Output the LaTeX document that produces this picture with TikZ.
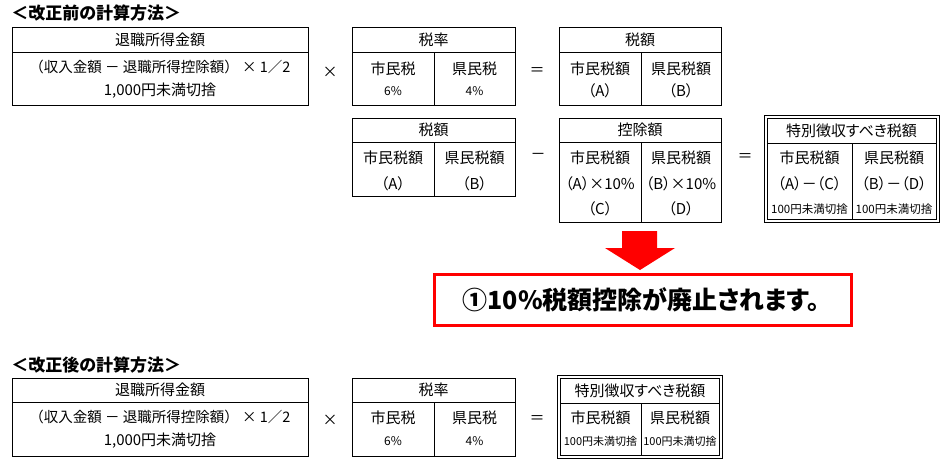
\documentclass[tikz,border=0pt]{standalone}
\usepackage{fontspec}
\setmainfont{Noto Sans CJK JP}[RawFeature={+palt}]
\newfontfamily\fwfont{Noto Sans CJK JP}
\begin{document}
\begin{tikzpicture}[x=1pt,y=-1pt,line width=0.8pt,
  t/.style={inner sep=0pt,font=\fontsize{15}{15}\selectfont},
  lng/.style={inner sep=0pt,font=\fwfont\fontsize{14.5}{15}\selectfont},
  sm/.style={inner sep=0pt,font=\fontsize{11.5}{12}\selectfont},
  smb/.style={inner sep=0pt,font=\fontsize{11}{12}\selectfont},
  pc/.style={inner sep=0pt,font=\fontsize{12}{12}\selectfont},
  op/.style={inner sep=0pt,font=\fontsize{15}{15}\selectfont},
  ttl/.style={inner sep=0pt,anchor=west,font=\bfseries\fontsize{17}{17}\selectfont},
  redtxt/.style={inner sep=0pt,font=\bfseries\fontsize{25}{25}\selectfont}]
\useasboundingbox (0,0) rectangle (947,472);
\fill[white] (0,0) rectangle (947,472);

% ===== before =====
\node[ttl] (t1) at (11,13) {＜改正前の計算方法＞};

% A1
\draw (12,27) rectangle (308,105);
\draw (12,52) -- (308,52);
\node[t] (a1h) at (160,40) {退職所得金額};
\node[lng] (a1l1) at (160,67) {（収入金額 － 退職所得控除額） × 1／2};
\node[t] (a1l2) at (160,91) {1,000円未満切捨};

\node[op] (x1) at (330,72) {×};

% B1
\draw (352,27) rectangle (515,105);
\draw (352,52) -- (515,52);
\draw (434,52) -- (434,105);
\node[t] (b1h) at (433.5,40) {税率};
\node[t] (b1a) at (393,69) {市民税};
\node[t] (b1b) at (474.5,69) {県民税};
\node[pc] (b1c) at (393,91) {6\%};
\node[pc] (b1d) at (474.5,91) {4\%};

\node[op] (eq1) at (537,72) {＝};

% C1
\draw (559,27) rectangle (721,105);
\draw (559,52) -- (721,52);
\draw (641,52) -- (641,105);
\node[t] (c1h) at (640,40) {税額};
\node[t] (c1a) at (600,69) {市民税額};
\node[t] (c1b) at (681,69) {県民税額};
\node[t] (c1c) at (600,91) {（A）};
\node[t] (c1d) at (681,91) {（B）};

% D
\draw (352,118) rectangle (515,196);
\draw (352,142) -- (515,142);
\draw (434,142) -- (434,196);
\node[t] (dh) at (433.5,130) {税額};
\node[t] (da) at (393,158) {市民税額};
\node[t] (db) at (474.5,158) {県民税額};
\node[t] (dc) at (393,184) {（A）};
\node[t] (dd) at (474.5,184) {（B）};

\node[op] (mn) at (538,156) {－};

% E
\draw (559,118) rectangle (721,222);
\draw (559,142) -- (721,142);
\draw (641,142) -- (641,222);
\node[t] (eh) at (640,130) {控除額};
\node[t] (ea) at (600,158) {市民税額};
\node[t] (eb) at (681,158) {県民税額};
\node[t] (ec) at (600,184) {（A）×10\%};
\node[t] (ed) at (681,184) {（B）×10\%};
\node[t] (ee) at (600,209) {（C）};
\node[t] (ef) at (681,209) {（D）};

\node[op] (eq2) at (745,158) {＝};

% F (double border)
\draw (764,115) rectangle (939,222);
\draw (767,118) rectangle (936,219);
\draw (767,143) -- (936,143);
\draw (852,143) -- (852,219);
\node[t] (fh) at (851.5,130.5) {特別徴収すべき税額};
\node[t] (fa) at (809.5,158) {市民税額};
\node[t] (fb) at (894,158) {県民税額};
\node[t] (fc) at (809.5,184) {（A）－（C）};
\node[t] (fd) at (894,184) {（B）－（D）};
\node[sm] (fe) at (809.5,209) {100円未満切捨};
\node[sm] (ff) at (894,209) {100円未満切捨};

% red arrow and box
\fill[red] (622,231) -- (657,231) -- (657,248) -- (675,248) -- (640,270) -- (605,248) -- (622,248) -- cycle;
\draw[red,line width=3pt] (434.5,274.5) rectangle (851.5,325.5);
\node[redtxt] (msg) at (641,300) {①10\%税額控除が廃止されます。};

% ===== after =====
\node[ttl] (t2) at (11,365) {＜改正後の計算方法＞};

% A2
\draw (12,378) rectangle (308,456);
\draw (12,402) -- (308,402);
\node[t] (a2h) at (160,390) {退職所得金額};
\node[lng] (a2l1) at (160,417) {（収入金額 － 退職所得控除額） × 1／2};
\node[t] (a2l2) at (160,441) {1,000円未満切捨};

\node[op] (x2) at (330,420) {×};

% B2
\draw (352,378) rectangle (515,456);
\draw (352,402) -- (515,402);
\draw (434,402) -- (434,456);
\node[t] (b2h) at (433.5,390) {税率};
\node[t] (b2a) at (393,418) {市民税};
\node[t] (b2b) at (474.5,418) {県民税};
\node[pc] (b2c) at (393,441) {6\%};
\node[pc] (b2d) at (474.5,441) {4\%};

\node[op] (eq3) at (537,420) {＝};

% F2 (double border)
\draw (557,375) rectangle (722,458);
\draw (560,378) rectangle (719,455);
\draw (560,403) -- (719,403);
\draw (641,403) -- (641,455);
\node[t] (gh) at (640,391) {特別徴収すべき税額};
\node[t] (ga) at (600.5,418) {市民税額};
\node[t] (gb) at (680,418) {県民税額};
\node[smb] (gc) at (600.5,441) {100円未満切捨};
\node[smb] (gd) at (680,441) {100円未満切捨};
\end{tikzpicture}
\end{document}
